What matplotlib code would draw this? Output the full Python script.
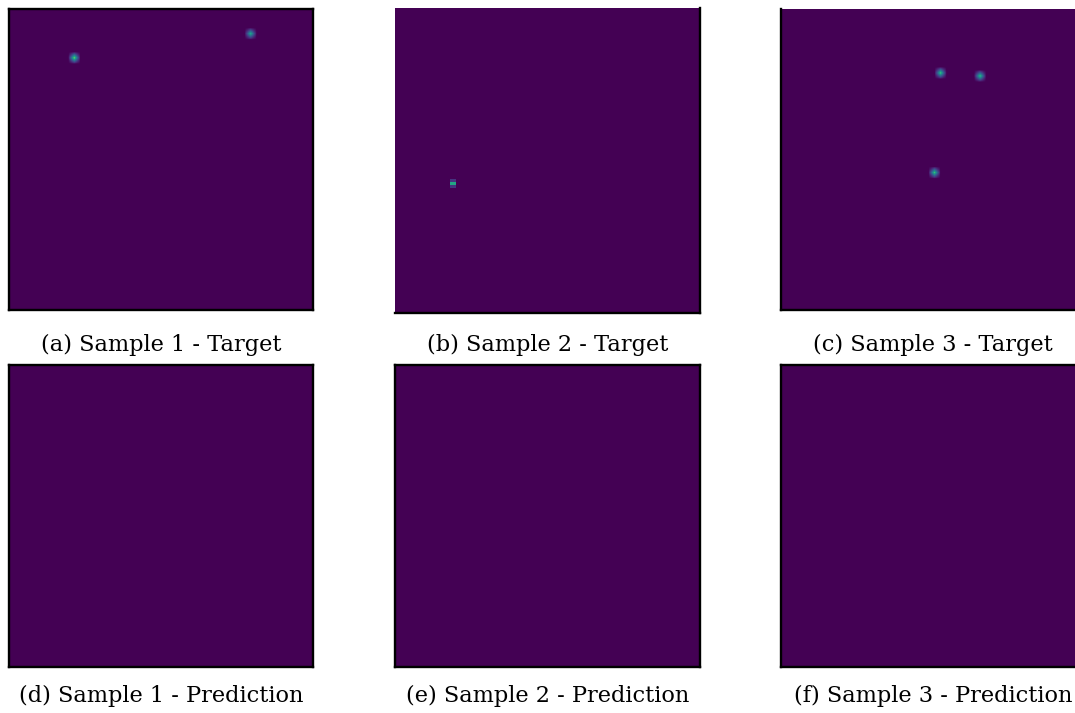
import numpy as np
import matplotlib
matplotlib.use("Agg")
import matplotlib.pyplot as plt

# grid size of every heatmap (rows, cols)
GRID = 100

captions = [
    "(a) Sample 1 - Target",
    "(b) Sample 2 - Target",
    "(c) Sample 3 - Target",
    "(d) Sample 1 - Prediction",
    "(e) Sample 2 - Prediction",
    "(f) Sample 3 - Prediction",
]

# peak locations (row, col) and heights of the target heatmaps
peaks_s1 = [(16, 21, 0.80), (8, 79, 0.62)]
peaks_s2 = [(57, 19, 0.60)]
peaks_s3 = [(21, 52, 0.72), (22, 65, 0.70), (54, 50, 0.70)]

# blurred spot footprint, relative to the peak height
spot = np.array([
    [0.20, 0.45, 0.20],
    [0.45, 1.00, 0.45],
    [0.20, 0.45, 0.20],
])
# sample 2 has a sharp single-row spot
bar = np.array([
    [0.25, 0.25],
    [1.00, 1.00],
    [0.25, 0.25],
])


def heatmap(peaks, kernel):
    img = np.zeros((GRID, GRID))
    kh, kw = kernel.shape
    for r, c, v in peaks:
        r0, c0 = r - kh // 2, c - kw // 2
        img[r0:r0 + kh, c0:c0 + kw] = np.maximum(img[r0:r0 + kh, c0:c0 + kw], v * kernel)
    return img


targets = [heatmap(peaks_s1, spot), heatmap(peaks_s2, bar), heatmap(peaks_s3, spot)]
preds = [np.zeros((GRID, GRID)) for _ in range(3)]
images = targets + preds
interp = ["bilinear", "nearest", "bilinear", "nearest", "nearest", "nearest"]

# axes boxes in pixels: left, top, right, bottom
W, H = 1075, 713
boxes = [
    (9, 9, 313, 310), (395, 8, 700, 313), (781, 9, 1085, 310),
    (9, 365, 313, 667), (395, 365, 700, 667), (781, 365, 1085, 667),
]
caption_y = [351, 351, 351, 702, 702, 702]
# which frame edges show up dark around each panel
edges = [
    ("left", "right", "top", "bottom"), ("right", "bottom"), ("left", "bottom"),
    ("left", "right", "top", "bottom"), ("left", "right", "top", "bottom"), ("left", "right", "top", "bottom"),
]

fig = plt.figure(figsize=(W / 100, H / 100), dpi=100)
for i, (img, (l, t, r, b)) in enumerate(zip(images, boxes)):
    ax = fig.add_axes([l / W, 1 - b / H, (r - l) / W, (b - t) / H])
    ax.imshow(img, cmap="viridis", vmin=0, vmax=1, aspect="auto", interpolation=interp[i])
    ax.set_xticks([])
    ax.set_yticks([])
    for side, sp in ax.spines.items():
        if side in edges[i]:
            sp.set_linewidth(1.7)
            sp.set_color("black")
        else:
            sp.set_visible(False)
    fig.text((l + r) / 2 / W, 1 - caption_y[i] / H, captions[i], ha="center", va="baseline",
             family="DejaVu Serif", fontsize=16.2)

fig.savefig("out.png", dpi=100)
